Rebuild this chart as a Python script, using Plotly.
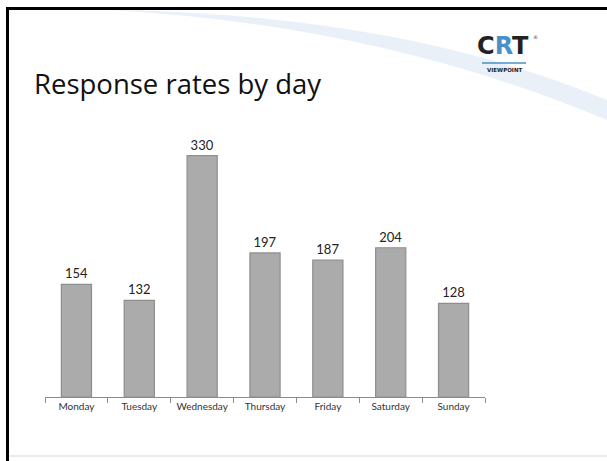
import plotly.graph_objects as go

days = ["Monday", "Tuesday", "Wednesday", "Thursday", "Friday", "Saturday", "Sunday"]
responses = [154, 132, 330, 197, 187, 204, 128]

W, H = 607, 461
L, R, T, B = 45, 122, 130, 64
pw, ph = W - L - R, H - T - B


def px(x):
    return (x - L) / pw


def py(y):
    return (H - B - y) / ph


fig = go.Figure()
fig.add_trace(go.Bar(
    x=days, y=responses,
    text=responses, textposition="outside",
    textfont=dict(family="Lato, Open Sans, sans-serif", size=13, color="#222"),
    marker=dict(color="#ababab", line=dict(color="#8e8e8e", width=1.2)),
    width=0.48, cliponaxis=False,
))

shapes = [
    # light swoosh in background
    dict(type="path", xref="paper", yref="paper", layer="below",
         path=f"M {px(110)} {py(10)} Q {px(380)} {py(25)} {px(607)} {py(120)} "
              f"L {px(607)} {py(100)} Q {px(400)} {py(14)} {px(110)} {py(10)} Z",
         fillcolor="rgba(200,218,236,0.4)", line=dict(width=0)),
    # slide frame
    dict(type="line", xref="paper", yref="paper", x0=px(6), x1=px(607), y0=py(8.5), y1=py(8.5),
         line=dict(color="black", width=3)),
    dict(type="line", xref="paper", yref="paper", x0=px(7.5), x1=px(7.5), y0=py(7), y1=py(461),
         line=dict(color="black", width=3)),
    dict(type="line", xref="paper", yref="paper", x0=px(9), x1=px(607), y0=py(456), y1=py(456),
         line=dict(color="#e6ecf2", width=2)),
    # logo underline
    dict(type="line", xref="paper", yref="paper", x0=px(482), x1=px(526), y0=py(63), y1=py(63),
         line=dict(color="#4a90c8", width=1.5)),
]

annotations = [
    dict(text="Response rates by day", xref="paper", yref="paper", x=px(32), y=py(104),
         xanchor="left", yanchor="bottom", showarrow=False,
         font=dict(family="Open Sans, sans-serif", size=27.5, color="#111")),
    dict(text="<b>C<span style='color:#4a90c8'>R</span>T</b>", xref="paper", yref="paper",
         x=px(503), y=py(46), xanchor="center", yanchor="middle", showarrow=False,
         borderpad=0, font=dict(family="DejaVu Sans, sans-serif", size=24, color="#222")),
    dict(text="®", xref="paper", yref="paper", x=px(535), y=py(33), xanchor="center",
         showarrow=False, borderpad=0,
         font=dict(family="DejaVu Sans, sans-serif", size=5, color="#444")),
    dict(text="<b>VIEWPOINT</b>", xref="paper", yref="paper", x=px(504), y=py(70),
         xanchor="center", yanchor="middle", showarrow=False,
         font=dict(family="DejaVu Sans, sans-serif", size=5.5, color="#222")),
]

fig.update_layout(
    width=W, height=H,
    margin=dict(l=L, r=R, t=T, b=B),
    paper_bgcolor="white", plot_bgcolor="white",
    showlegend=False,
    bargap=0.52,
    shapes=shapes,
    annotations=annotations,
    xaxis=dict(showline=True, linecolor="#8c8c8c", linewidth=1,
               ticks="outside", tickson="boundaries", ticklen=5, tickcolor="#8c8c8c",
               tickfont=dict(family="Lato, Open Sans, sans-serif", size=10, color="#333"),
               showgrid=False),
    yaxis=dict(range=[0, 365], visible=False, showgrid=False),
)

fig.write_html("out.html", config={"displayModeBar": False},
               post_script="document.body.style.margin='0px';")
